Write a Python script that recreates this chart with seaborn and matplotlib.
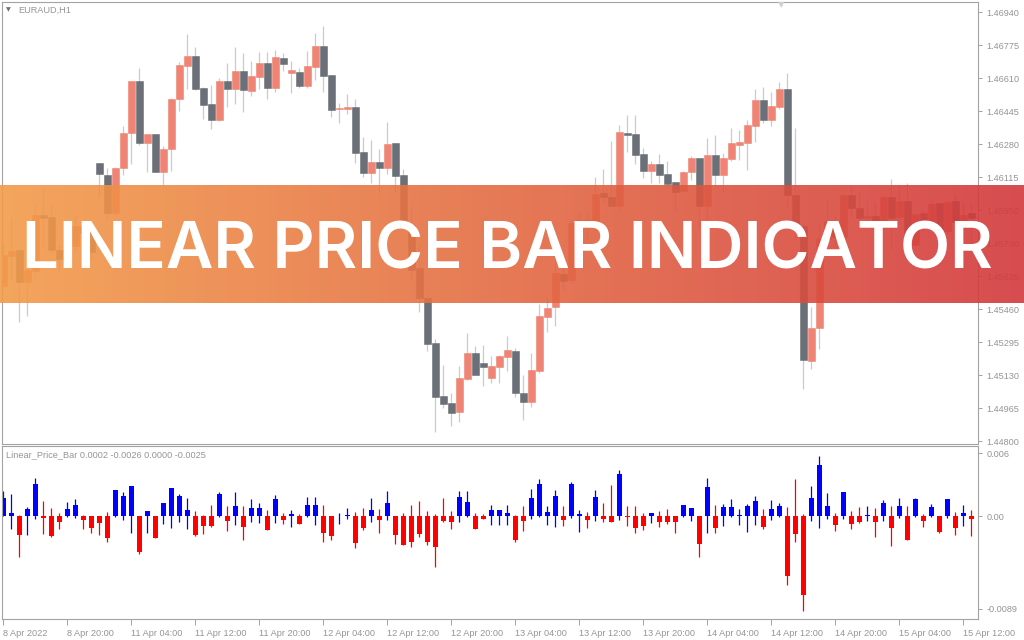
import numpy as np
import pandas as pd
import matplotlib
matplotlib.use("Agg")
import matplotlib.pyplot as plt
import seaborn as sns

# EURAUD H1 candles (price units)
opens = [1.45572, 1.45722, 1.45752, 1.45592, 1.45647, 1.45927, 1.45917, 1.45752, 1.45712, 1.45772,
         1.45872, 1.45842, 1.46187, 1.46129, 1.45937, 1.46164, 1.46335, 1.46599, 1.46289, 1.46332,
         1.46144, 1.46256, 1.46506, 1.46674, 1.46722, 1.46562, 1.46482, 1.46404, 1.46597, 1.46559,
         1.46647, 1.46549, 1.46617, 1.46687, 1.46562, 1.46712, 1.46639, 1.46642, 1.46572, 1.46669,
         1.46772, 1.46627, 1.46457, 1.46457, 1.46467, 1.46242, 1.46137, 1.46192, 1.46162, 1.46287,
         1.46127, 1.45877, 1.45662, 1.45512, 1.45287, 1.45022, 1.44987, 1.44942, 1.45109, 1.45237,
         1.45187, 1.45114, 1.45168, 1.45219, 1.45247, 1.45037, 1.44993, 1.45148, 1.45419, 1.45467,
         1.45632, 1.45602, 1.45887, 1.45902, 1.45887, 1.46038, 1.46018, 1.45972, 1.46337, 1.46332,
         1.46232, 1.46147, 1.46182, 1.46132, 1.46092, 1.46049, 1.46142, 1.46212, 1.45973, 1.46227,
         1.46127, 1.46207, 1.46277, 1.46287, 1.46372, 1.46502, 1.46402, 1.46467, 1.46557, 1.46027,
         1.45872, 1.45198, 1.45362, 1.45807, 1.45895, 1.45817, 1.46027, 1.45960, 1.45912, 1.45922,
         1.45892, 1.46017, 1.45917, 1.45997, 1.45777, 1.45936, 1.45894, 1.45987, 1.45847, 1.45997,
         1.45894, 1.45936]
highs = [1.45791, 1.45915, 1.45758, 1.45671, 1.45980, 1.46059, 1.45987, 1.45779, 1.45835, 1.45921,
         1.45881, 1.45842, 1.46187, 1.46164, 1.46165, 1.46374, 1.46599, 1.46661, 1.46332, 1.46332,
         1.46272, 1.46510, 1.46692, 1.46831, 1.46766, 1.46567, 1.46579, 1.46614, 1.46685, 1.46769,
         1.46735, 1.46698, 1.46742, 1.46740, 1.46752, 1.46738, 1.46695, 1.46662, 1.46747, 1.46837,
         1.46870, 1.46627, 1.46487, 1.46532, 1.46505, 1.46315, 1.46302, 1.46255, 1.46390, 1.46287,
         1.46157, 1.45974, 1.45794, 1.45556, 1.45305, 1.45179, 1.45037, 1.45172, 1.45337, 1.45270,
         1.45277, 1.45222, 1.45227, 1.45322, 1.45260, 1.45129, 1.45237, 1.45480, 1.45515, 1.45695,
         1.45720, 1.45900, 1.45939, 1.45937, 1.46115, 1.46157, 1.46295, 1.46378, 1.46426, 1.46425,
         1.46262, 1.46197, 1.46230, 1.46197, 1.46092, 1.46145, 1.46222, 1.46212, 1.46312, 1.46327,
         1.46237, 1.46360, 1.46350, 1.46402, 1.46557, 1.46566, 1.46542, 1.46592, 1.46637, 1.46360,
         1.45890, 1.45467, 1.45887, 1.46009, 1.45921, 1.46027, 1.46071, 1.46039, 1.45999, 1.45992,
         1.46032, 1.46105, 1.46075, 1.46085, 1.45934, 1.45953, 1.45999, 1.45987, 1.45996, 1.46032,
         1.45990, 1.45988]
lows = [1.45572, 1.45605, 1.45392, 1.45420, 1.45618, 1.45772, 1.45736, 1.45641, 1.45703, 1.45755,
        1.45761, 1.45696, 1.46018, 1.45904, 1.45926, 1.46129, 1.46184, 1.46277, 1.46143, 1.46142,
        1.46074, 1.46147, 1.46446, 1.46557, 1.46550, 1.46407, 1.46357, 1.46395, 1.46469, 1.46480,
        1.46440, 1.46522, 1.46559, 1.46507, 1.46542, 1.46645, 1.46537, 1.46562, 1.46562, 1.46602,
        1.46542, 1.46417, 1.46387, 1.46432, 1.46185, 1.46117, 1.46085, 1.46042, 1.46130, 1.46040,
        1.45872, 1.45609, 1.45442, 1.45249, 1.44842, 1.44962, 1.44870, 1.44892, 1.45100, 1.45126,
        1.45074, 1.45087, 1.45089, 1.45147, 1.45019, 1.44904, 1.44969, 1.45139, 1.45340, 1.45372,
        1.45547, 1.45585, 1.45750, 1.45800, 1.45846, 1.45988, 1.45968, 1.45940, 1.46242, 1.46182,
        1.46110, 1.46085, 1.46087, 1.46065, 1.45946, 1.46040, 1.46100, 1.45856, 1.45827, 1.46052,
        1.46040, 1.46198, 1.46201, 1.46150, 1.46294, 1.46387, 1.46370, 1.46458, 1.45957, 1.45802,
        1.45057, 1.45155, 1.45255, 1.45784, 1.45766, 1.45794, 1.45916, 1.45902, 1.45871, 1.45741,
        1.45851, 1.45757, 1.45902, 1.45785, 1.45768, 1.45842, 1.45885, 1.45841, 1.45832, 1.45833,
        1.45808, 1.45763]
closes = [1.45727, 1.45747, 1.45592, 1.45652, 1.45927, 1.45912, 1.45752, 1.45707, 1.45772, 1.45872,
          1.45837, 1.45742, 1.46132, 1.45939, 1.46162, 1.46337, 1.46599, 1.46289, 1.46332, 1.46144,
          1.46257, 1.46506, 1.46677, 1.46722, 1.46559, 1.46479, 1.46404, 1.46597, 1.46559, 1.46647,
          1.46554, 1.46622, 1.46687, 1.46562, 1.46717, 1.46682, 1.46652, 1.46572, 1.46672, 1.46772,
          1.46622, 1.46452, 1.46460, 1.46467, 1.46237, 1.46137, 1.46192, 1.46162, 1.46282, 1.46122,
          1.45877, 1.45652, 1.45512, 1.45284, 1.45018, 1.44983, 1.44938, 1.45112, 1.45237, 1.45129,
          1.45168, 1.45172, 1.45222, 1.45252, 1.45038, 1.44993, 1.45152, 1.45422, 1.45462, 1.45637,
          1.45598, 1.45888, 1.45902, 1.45887, 1.46032, 1.46017, 1.45972, 1.46342, 1.46327, 1.46227,
          1.46147, 1.46182, 1.46127, 1.46082, 1.46044, 1.46142, 1.46212, 1.45970, 1.46227, 1.46127,
          1.46212, 1.46287, 1.46292, 1.46377, 1.46502, 1.46402, 1.46472, 1.46557, 1.46027, 1.45872,
          1.45202, 1.45362, 1.45807, 1.45895, 1.45819, 1.46027, 1.45960, 1.45910, 1.45922, 1.45882,
          1.46017, 1.45912, 1.45999, 1.45787, 1.45932, 1.45894, 1.45982, 1.45847, 1.45994, 1.45894,
          1.45927, 1.45912]

# Linear_Price_Bar indicator window (bar body and wick ends, relative to open)
lpb_close = [0.00175, 0.00029, -0.00179, 0.00067, 0.00306, -0.00019, -0.00191, -0.00054, 0.00067, 0.00105,
             -0.00035, -0.00112, -0.00064, -0.00207, 0.00249, 0.00191, 0.00287, -0.00341, 0.00048, -0.00207,
             0.00124, 0.00268, 0.00191, 0.00057, -0.00179, -0.00093, -0.00093, 0.00211, -0.00045, 0.00096,
             -0.00102, 0.00077, 0.00077, -0.00131, 0.00163, -0.00035, 0.00019, -0.00073, 0.00105, 0.00105,
             -0.00160, -0.00188, 0.00003, 0.00006, -0.00255, -0.00112, 0.00057, -0.00035, 0.00124, -0.00179,
             -0.00274, -0.00246, -0.00169, -0.00246, -0.00293, -0.00045, -0.00054, 0.00182, 0.00134, -0.00121,
             -0.00026, 0.00057, 0.00057, 0.00029, -0.00226, -0.00045, 0.00172, 0.00306, 0.00038, 0.00191,
             -0.00035, 0.00306, 0.00019, -0.00035, 0.00182, -0.00026, -0.00054, 0.00402, -0.00006, -0.00112,
             -0.00093, 0.00029, -0.00054, -0.00054, -0.00054, 0.00105, 0.00077, -0.00265, 0.00278, -0.00112,
             0.00086, 0.00086, 0.00010, 0.00096, 0.00144, -0.00102, 0.00067, 0.00096, -0.00571, -0.00169,
             -0.00753, 0.00172, 0.00488, 0.00096, -0.00083, 0.00230, -0.00073, -0.00054, 0.00010, -0.00054,
             0.00124, -0.00112, 0.00096, -0.00226, 0.00163, -0.00045, 0.00086, -0.00150, 0.00163, -0.00112,
             0.00029, -0.00026]
lpb_high = [0.00239, 0.00211, 0.00006, 0.00086, 0.00364, 0.00144, 0.00077, 0.00029, 0.00134, 0.00163,
            0.00010, 0.00000, 0.00000, 0.00038, 0.00249, 0.00230, 0.00287, 0.00000, 0.00048, 0.00000,
            0.00124, 0.00268, 0.00211, 0.00172, 0.00048, 0.00006, 0.00105, 0.00230, 0.00096, 0.00230,
            0.00096, 0.00163, 0.00124, 0.00057, 0.00201, 0.00029, 0.00057, 0.00019, 0.00182, 0.00182,
            0.00105, 0.00000, 0.00029, 0.00077, 0.00038, 0.00077, 0.00172, 0.00067, 0.00239, 0.00000,
            0.00029, 0.00105, 0.00144, 0.00048, 0.00019, 0.00172, 0.00048, 0.00239, 0.00239, 0.00029,
            0.00019, 0.00105, 0.00057, 0.00105, 0.00010, 0.00096, 0.00258, 0.00354, 0.00096, 0.00249,
            0.00096, 0.00325, 0.00057, 0.00038, 0.00249, 0.00124, 0.00297, 0.00440, 0.00096, 0.00096,
            0.00029, 0.00029, 0.00048, 0.00067, 0.00000, 0.00105, 0.00077, 0.00000, 0.00364, 0.00105,
            0.00115, 0.00163, 0.00067, 0.00115, 0.00191, 0.00067, 0.00153, 0.00124, 0.00086, 0.00354,
            0.00019, 0.00287, 0.00574, 0.00220, 0.00029, 0.00230, 0.00048, 0.00086, 0.00096, 0.00077,
            0.00153, 0.00096, 0.00172, 0.00096, 0.00172, 0.00019, 0.00115, 0.00000, 0.00163, 0.00038,
            0.00105, 0.00057]
lpb_low = [0.00000, -0.00128, -0.00389, -0.00185, -0.00032, -0.00169, -0.00198, -0.00121, -0.00010, -0.00019,
           -0.00121, -0.00160, -0.00185, -0.00246, -0.00013, -0.00038, -0.00166, -0.00360, -0.00160, -0.00207,
           -0.00077, -0.00112, -0.00057, -0.00128, -0.00188, -0.00169, -0.00102, -0.00010, -0.00140, -0.00086,
           -0.00226, -0.00057, -0.00064, -0.00131, -0.00064, -0.00073, -0.00102, -0.00073, -0.00010, -0.00086,
           -0.00246, -0.00226, -0.00073, -0.00026, -0.00303, -0.00131, -0.00054, -0.00160, -0.00035, -0.00265,
           -0.00274, -0.00293, -0.00198, -0.00274, -0.00485, -0.00054, -0.00121, -0.00054, -0.00010, -0.00121,
           -0.00026, -0.00083, -0.00083, -0.00083, -0.00246, -0.00140, -0.00026, -0.00010, -0.00083, -0.00102,
           -0.00093, -0.00019, -0.00150, -0.00112, -0.00045, -0.00054, -0.00054, -0.00035, -0.00093, -0.00160,
           -0.00131, -0.00064, -0.00102, -0.00073, -0.00160, -0.00010, -0.00045, -0.00389, -0.00160, -0.00160,
           -0.00093, -0.00010, -0.00083, -0.00150, -0.00083, -0.00121, -0.00035, -0.00010, -0.00657, -0.00246,
           -0.00906, -0.00045, -0.00112, -0.00026, -0.00140, -0.00026, -0.00121, -0.00064, -0.00045, -0.00198,
           -0.00045, -0.00284, -0.00016, -0.00226, -0.00010, -0.00102, -0.00010, -0.00160, -0.00016, -0.00179,
           -0.00093, -0.00188]

price_ticks = [1.46940, 1.46775, 1.46610, 1.46445, 1.46280, 1.46115, 1.45950,
               1.45785, 1.45620, 1.45455, 1.45290, 1.45125, 1.44960, 1.44795]
price_labels = ["1.46940", "1.46775", "1.46610", "1.46445", "1.46280", "1.46115", "1.45950",
                "1.45790", "1.45625", "1.45460", "1.45295", "1.45130", "1.44965", "1.44800"]
lpb_ticks = [0.006, 0.0, -0.0089]
lpb_labels = ["0.006", "0.00", "-0.0089"]
time_labels = ["8 Apr 2022", "8 Apr 20:00", "11 Apr 04:00", "11 Apr 12:00", "11 Apr 20:00",
               "12 Apr 04:00", "12 Apr 12:00", "12 Apr 20:00", "13 Apr 04:00", "13 Apr 12:00",
               "13 Apr 20:00", "14 Apr 04:00", "14 Apr 12:00", "14 Apr 20:00", "15 Apr 04:00",
               "15 Apr 12:00"]

sns.set_style("white")
plt.rcParams["font.family"] = ["Liberation Sans", "DejaVu Sans"]

W, H = 1024, 640
fig = plt.figure(figsize=(10.24, 6.4), dpi=100)
fig.patch.set_facecolor("white")


def px_box(x0, y0, x1, y1):
    return [x0 / W, 1 - y1 / H, (x1 - x0) / W, (y1 - y0) / H]


frame = "#a3a3a3"
label_col = "#959595"

ax = fig.add_axes(px_box(2, 2, 978, 444))
ax2 = fig.add_axes(px_box(2, 446, 978, 619))

candles = pd.DataFrame({"open": opens, "high": highs, "low": lows, "close": closes})
candles["pos"] = np.arange(len(candles))
up = candles["close"] >= candles["open"]
body_col = np.where(up, "#ef8474", "#6a6f78")

ax.vlines(candles["pos"], candles["low"], candles["high"], color="#c9cad3", lw=0.9, zorder=1)
ax.bar(candles["pos"], candles["close"] - candles["open"], bottom=candles["open"], width=0.86,
       color=body_col, edgecolor=body_col, linewidth=0.4, zorder=2)

ind = pd.DataFrame({"pos": np.arange(len(lpb_close)), "close": lpb_close,
                    "high": lpb_high, "low": lpb_low})
ind["dir"] = np.where(ind["close"] >= 0, "up", "down")
sns.barplot(data=ind, x="pos", y="close", hue="dir", palette={"up": "#0000ff", "down": "#ff0000"},
            native_scale=True, dodge=False, width=0.64, saturation=1, errorbar=None,
            legend=False, linewidth=0, ax=ax2)
ax2.vlines(ind["pos"], ind["low"], ind["high"],
           colors=np.where(ind["dir"] == "up", "#0000ff", "#ff0000"), lw=0.9, zorder=1)

xmin, xmax = (2 - 3.3) / 8, (978 - 3.3) / 8
for a in (ax, ax2):
    a.set_xlim(xmin, xmax)
    a.set_facecolor("white")
    a.set_xlabel("")
    a.set_ylabel("")
    for s in a.spines.values():
        s.set_visible(True)
        s.set_color(frame)
        s.set_linewidth(0.8)
    a.yaxis.tick_right()
    a.tick_params(axis="y", which="both", right=True, left=False, direction="out", length=3,
                  width=0.7, color=frame, labelcolor=label_col, labelsize=6.6, pad=3)

ax.set_ylim(1.47002 - 444 * 0.00005, 1.47002 - 2 * 0.00005)
ax.set_yticks(price_ticks, price_labels)
ax.set_xticks([])

ax2.set_ylim(-(619 - 516) * 0.0000957, (516 - 446) * 0.0000957)
ax2.set_yticks(lpb_ticks, lpb_labels)
ax2.set_xticks(np.arange(0, 121, 8), time_labels, ha="left")
ax2.tick_params(axis="x", bottom=True, direction="out", length=4, width=0.7, color=frame,
                labelcolor=label_col, labelsize=6.6, pad=3)

# chart captions
fig.text(18 / W, 1 - 10 / H, "EURAUD,H1", fontsize=6.6, color=label_col, va="center")
fig.text(8 / W, 1 - 9.5 / H, "\u25bc", fontsize=4.5, color="#707070", ha="center", va="center",
         family="DejaVu Sans")
fig.text(781 / W, 1 - 4.5 / H, "\u25bc", fontsize=6, color="#cfd0d6", ha="center", va="center",
         family="DejaVu Sans")
fig.text(6 / W, 1 - 455 / H, "Linear_Price_Bar 0.0002 -0.0026 0.0000 -0.0025", fontsize=6.6,
         color=label_col, va="center")

# title banner
bax = fig.add_axes(px_box(0, 185, 1024, 302.7), zorder=10)
c_left = np.array([243, 156, 74]) / 255
c_right = np.array([211, 56, 60]) / 255
t = np.linspace(0, 1, 512)[None, :, None]
grad = c_left + (c_right - c_left) * t
bax.imshow(grad, aspect="auto", extent=[0, 1, 0, 1], alpha=0.9, interpolation="bilinear")
bax.set_facecolor("none")
bax.set_axis_off()
fig.text(507 / W, 1 - 268.5 / H, "LINEAR PRICE BAR INDICATOR", ha="center", va="baseline",
         fontsize=47, fontweight="semibold", family=["Inter", "DejaVu Sans"], color="white", zorder=20)

fig.savefig("out.png", dpi=100)
